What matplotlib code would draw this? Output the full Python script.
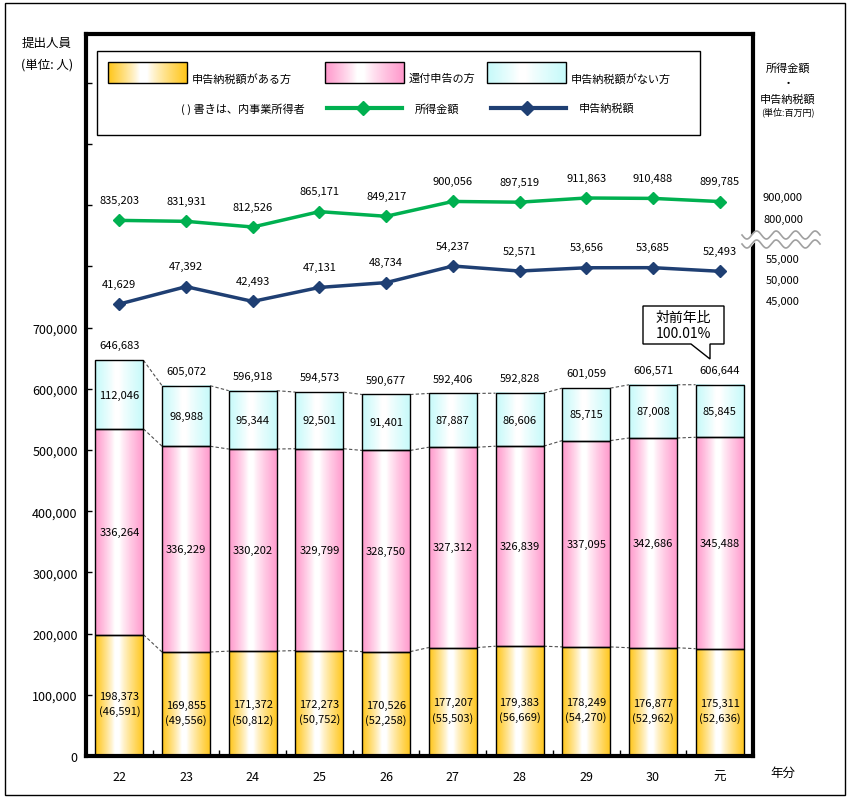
import numpy as np
import matplotlib
matplotlib.use("Agg")
import matplotlib.pyplot as plt
import matplotlib.colors as mcolors
from matplotlib.patches import Rectangle, Polygon

plt.rcParams["font.family"] = ["Noto Sans CJK JP", "DejaVu Sans"]

# data
years = ["22", "23", "24", "25", "26", "27", "28", "29", "30", "元"]
tax_payers = [198373, 169855, 171372, 172273, 170526, 177207, 179383, 178249, 176877, 175311]
business = [46591, 49556, 50812, 50752, 52258, 55503, 56669, 54270, 52962, 52636]
refund = [336264, 336229, 330202, 329799, 328750, 327312, 326839, 337095, 342686, 345488]
no_tax = [112046, 98988, 95344, 92501, 91401, 87887, 86606, 85715, 87008, 85845]
totals = [646683, 605072, 596918, 594573, 590677, 592406, 592828, 601059, 606571, 606644]
income = [835203, 831931, 812526, 865171, 849217, 900056, 897519, 911863, 910488, 899785]
tax = [41629, 47392, 42493, 47131, 48734, 54237, 52571, 53656, 53685, 52493]

ORANGE = "#FFC61A"
PINK = "#FF99CC"
CYAN = "#C6FAFA"
GREEN = "#00B050"
NAVY = "#1F3F73"
W, H = 854, 803


def gradient(edge, n=80):
    x = np.linspace(0, 1, n)
    w = np.where(x < 0.40, (0.40 - x) / 0.40, (x - 0.50) / 0.50).clip(0, 1) ** 0.85
    c = np.array(mcolors.to_rgb(edge))
    row = (1 - w)[:, None] + w[:, None] * c
    return row[None, :, :]


fig = plt.figure(figsize=(W / 100, H / 100), dpi=100)
ax = fig.add_axes([86 / W, 1 - 757 / H, (753 - 86) / W, (757 - 35) / H])

x = np.arange(len(years))
bw = 0.72
tp = np.array(tax_payers)
rf = np.array(refund)
nt = np.array(no_tax)
segments = [(np.zeros(len(x)), tp, ORANGE), (tp, rf, PINK), (tp + rf, nt, CYAN)]
for bottom, height, col in segments:
    img = gradient(col)
    for xi, b, h in zip(x, bottom, height):
        ax.imshow(img, extent=[xi - bw / 2, xi + bw / 2, b, b + h],
                  aspect="auto", interpolation="bilinear", zorder=1)
    ax.bar(x, height, bw, bottom=bottom, fill=False, edgecolor="black",
           linewidth=1.0, zorder=2)

# dashed connectors between bars
for lvl in [tp, tp + rf, np.array(totals)]:
    for i in range(len(x) - 1):
        ax.plot([x[i] + bw / 2, x[i + 1] - bw / 2], [lvl[i], lvl[i + 1]],
                ls=(0, (3, 2)), color="#505050", lw=0.8, zorder=1)

# data labels
for i in range(len(x)):
    ax.annotate(f"{totals[i]:,}", (x[i], totals[i]), xytext=(0, 7),
                textcoords="offset points", ha="center", va="bottom", fontsize=8)
    ax.text(x[i], tp[i] + rf[i] + nt[i] / 2, f"{no_tax[i]:,}",
            ha="center", va="center", fontsize=8, zorder=3)
    ax.text(x[i], tp[i] + rf[i] / 2, f"{refund[i]:,}",
            ha="center", va="center", fontsize=8, zorder=3)
    ax.annotate(f"{tax_payers[i]:,}\n({business[i]:,})", (x[i], tp[i] / 2),
                xytext=(0, -6), textcoords="offset points", ha="center",
                va="center", fontsize=8, linespacing=1.5, zorder=3)

ax.set_xlim(-0.5, len(x) - 0.5)
ax.set_ylim(0, 1179700)
yt = np.arange(0, 1100001, 100000)
ax.set_yticks(yt)
ax.set_yticklabels([f"{v:,}" if v <= 700000 else "" for v in yt], fontsize=9)
ax.set_xticks(x)
ax.set_xticklabels(years, fontsize=9)
ax.set_xticks(x[:-1] + 0.5, minor=True)
ax.tick_params(axis="y", direction="in", length=4, width=1, pad=6)
ax.tick_params(axis="x", which="major", length=0, pad=10)
ax.tick_params(axis="x", which="minor", direction="in", length=4, width=1)
for s in ax.spines.values():
    s.set_linewidth(3)

# income / tax lines on their own hidden scales
ax_inc = ax.twinx()
ax_inc.set_ylim(-999100, 1473500)
ax_tax = ax.twinx()
ax_tax.set_ylim(-108300, 131200)
for a, vals, col in [(ax_inc, income, GREEN), (ax_tax, tax, NAVY)]:
    a.plot(x, vals, color=col, lw=2.5, marker="D", ms=6)
    for xi, v in zip(x, vals):
        a.annotate(f"{v:,}", (xi, v), xytext=(0, 11), textcoords="offset points",
                   ha="center", va="bottom", fontsize=8)
    a.set_yticks([])
    for s in a.spines.values():
        s.set_visible(False)

# overlay in pixel coordinates for frame, legend and side texts
ov = fig.add_axes([0, 0, 1, 1], zorder=5)
ov.set_xlim(0, W)
ov.set_ylim(H, 0)
ov.axis("off")
ov.patch.set_alpha(0)
ov.add_patch(Rectangle((5, 4), 840, 792, fill=False, edgecolor="black", lw=1))

# legend
ov.add_patch(Rectangle((97, 52), 603, 84, facecolor="white", edgecolor="black", lw=1))
swatches = [(108, ORANGE, "申告納税額がある方"), (325, PINK, "還付申告の方"),
            (487, CYAN, "申告納税額がない方")]
for sx, col, lab in swatches:
    ov.imshow(gradient(col), extent=[sx, sx + 79, 84, 63], aspect="auto",
              interpolation="bilinear", zorder=6)
    ov.add_patch(Rectangle((sx, 63), 79, 21, fill=False, edgecolor="black", lw=1, zorder=7))
    ov.text(sx + 84, 79, lab, fontsize=8, va="center", ha="left")
ov.text(305, 109, "( ) 書きは、内事業所得者", fontsize=8, va="center", ha="right")
for lx, col, lab in [(327, GREEN, "所得金額"), (491, NAVY, "申告納税額")]:
    ov.plot([lx, lx + 75], [109, 109], color=col, lw=3, zorder=7)
    ov.plot([lx + 36], [109], marker="D", ms=7, color=col, zorder=7)
    ov.text(lx + 88, 109, lab, fontsize=8, va="center", ha="left")

# axis titles
ov.text(47, 43, "提出人員", fontsize=9, ha="center", va="center")
ov.text(47, 65, "(単位: 人)", fontsize=9, ha="center", va="center")
ov.text(788, 68, "所得金額", fontsize=8, ha="center", va="center")
ov.text(788, 84, "・", fontsize=8, ha="center", va="center")
ov.text(788, 100, "申告納税額", fontsize=8, ha="center", va="center")
ov.text(788, 112, "(単位:百万円)", fontsize=6.5, ha="center", va="center")
ov.text(783, 773, "年分", fontsize=9, ha="center", va="center")

# right-side scale notes
for ty, lab in [(198, "900,000"), (220, "800,000"), (260, "55,000"),
                (281, "50,000"), (302, "45,000")]:
    ov.text(783, ty, lab, fontsize=8, ha="center", va="center")

# wavy break mark
wx = np.linspace(742, 820, 200)
wave = 4 * np.sin((wx - 742) / 78 * 4 * 2 * np.pi)
ov.fill_between(wx, 236 + wave, 245 + wave, color="white", zorder=6)
ov.plot(wx, 236 + wave, color="#A0A0A0", lw=1.2, zorder=7)
ov.plot(wx, 245 + wave, color="#A0A0A0", lw=1.2, zorder=7)

# callout
ov.add_patch(Polygon([(643, 307), (724, 307), (724, 345), (710, 345), (710, 360),
                      (691, 345), (643, 345)], closed=True, facecolor="white",
                     edgecolor="black", lw=1, zorder=6))
ov.text(683, 318, "対前年比", fontsize=10, ha="center", va="center", zorder=7)
ov.text(683, 334, "100.01%", fontsize=10, ha="center", va="center", zorder=7)

fig.savefig("out.png", dpi=100)
